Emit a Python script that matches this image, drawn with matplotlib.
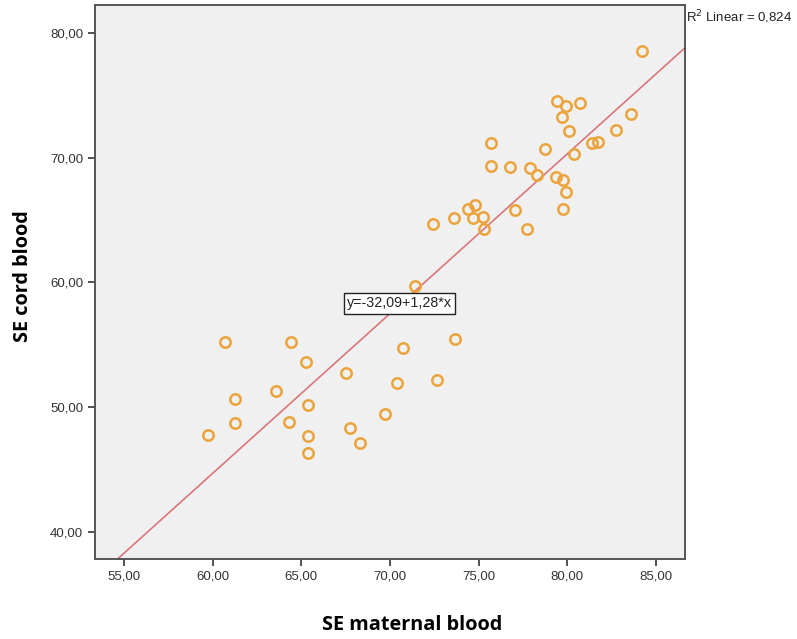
import numpy as np
import matplotlib.pyplot as plt

# SE maternal blood (x) vs SE cord blood (y)
maternal = [84.21, 79.42, 79.90, 80.72, 79.68, 80.12, 83.61, 82.73, 81.41, 81.74,
            75.70, 78.72, 80.37, 75.70, 76.74, 77.90, 78.30, 79.38, 79.75, 79.90,
            79.73, 77.04, 74.40, 74.77, 74.70, 75.22, 73.59, 72.41, 75.32, 77.72,
            71.40,
            60.67, 64.39, 65.25, 67.54, 70.72, 73.68, 63.58, 61.28, 65.39, 70.42,
            72.63, 61.28, 64.28, 69.71, 59.71, 65.39, 67.73, 68.29, 65.39]
cord = [78.52, 74.56, 74.14, 74.36, 73.24, 72.16, 73.54, 72.26, 71.14, 71.26,
        71.18, 70.66, 70.26, 69.30, 69.24, 69.18, 68.58, 68.46, 68.22, 67.26,
        65.86, 65.82, 65.90, 66.20, 65.14, 65.22, 65.18, 64.70, 64.28, 64.30,
        59.70,
        55.26, 55.26, 53.62, 52.72, 54.72, 55.44, 51.30, 50.70, 50.22, 51.94,
        52.22, 48.74, 48.78, 49.44, 47.76, 47.66, 48.32, 47.10, 46.32]

intercept = -32.09
slope = 1.28
r2 = "0,824"

xticks = [55, 60, 65, 70, 75, 80, 85]
yticks = [40, 50, 60, 70, 80]

plt.rcParams['font.family'] = ['Liberation Sans', 'DejaVu Sans']

fig = plt.figure(figsize=(7.97, 6.39), dpi=100)
ax = fig.add_axes([0.1192, 0.1252, 0.7403, 0.8670])
ax.set_facecolor('#f0f0f0')

xlim = (53.36, 86.64)
ylim = (37.84, 82.24)

xs = np.array(xlim)
ax.plot(xs, intercept + slope * xs, color='#d9767c', lw=1.2, zorder=2)
ax.plot(maternal, cord, 'o', mfc='none', mec='#eba43c', ms=7.5, mew=1.8, zorder=3)

ax.set_xlim(*xlim)
ax.set_ylim(*ylim)
ax.set_xticks(xticks)
ax.set_yticks(yticks)
ax.set_xticklabels([f"{t},00" for t in xticks])
ax.set_yticklabels([f"{t},00" for t in yticks])
ax.tick_params(direction='out', length=5, width=1.3, color='#444444',
               labelsize=9.5, labelcolor='#333333')
for s in ax.spines.values():
    s.set_color('#555555')
    s.set_linewidth(1.4)

# axis titles placed as in the original (not centred on the axes)
lab_font = ['Open Sans', 'DejaVu Sans']
fig.text(412 / 797, 1 - 625 / 639, 'SE maternal blood', fontsize=14.3,
         fontweight='bold', family=lab_font, ha='center', va='center')
fig.text(22.7 / 797, 1 - 276 / 639, 'SE cord blood', fontsize=14.3,
         fontweight='bold', family=lab_font, ha='center', va='center',
         rotation=90)

ax.text(70.55, 58.32, "y=-32,09+1,28*x", fontsize=10.3, color='#222222',
        ha='center', va='center', zorder=4,
        bbox=dict(boxstyle='square,pad=0.22', fc='white', ec='#222222', lw=1))

fig.text(0.861, 0.973, r"R$^2$ Linear = " + r2, fontsize=9.5, color='#222222',
         ha='left', va='center')

plt.savefig('out.png', dpi=100)
